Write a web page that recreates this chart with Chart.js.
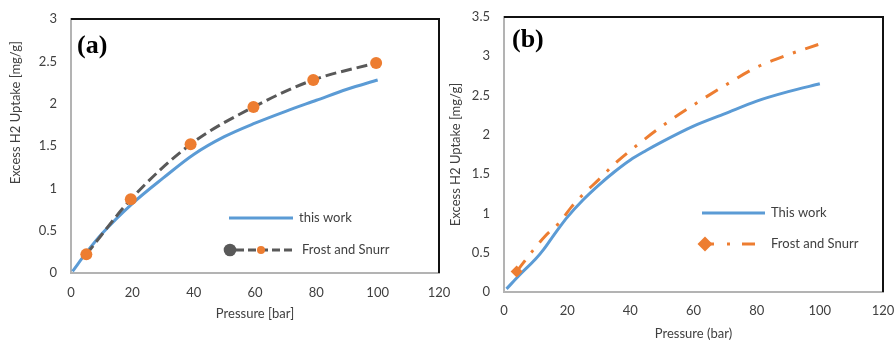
<!DOCTYPE html>
<html><head><meta charset="utf-8">
<script src="https://cdn.jsdelivr.net/npm/chart.js@4/dist/chart.umd.min.js"></script>
<style>
html,body{margin:0;padding:0;background:#fff;}
#wrap{position:relative;width:896px;height:342px;overflow:hidden;background:#fff;}
#ca{position:absolute;left:0;top:0;}
#cb{position:absolute;left:448px;top:0;}
</style></head><body>
<div id="wrap"><canvas id="ca" width="450" height="342"></canvas><canvas id="cb" width="448" height="342"></canvas></div>
<script>
// ---------- Panel (a) ----------
const aThisWorkX = [0.5, 5, 10, 20, 30, 40, 50, 60, 70, 80, 90, 100];
const aThisWorkY = [0.02, 0.24, 0.46, 0.82, 1.12, 1.40, 1.61, 1.77, 1.91, 2.04, 2.17, 2.28];
const aFrostX = [5, 19.5, 39, 59.5, 79, 99.5];
const aFrostY = [0.22, 0.87, 1.52, 1.96, 2.28, 2.48];
// ---------- Panel (b) ----------
const bThisWorkX = [0.8, 5, 10, 12.5, 15, 17.5, 20, 25, 30, 35, 40, 45, 50, 60, 70, 80, 90, 100];
const bThisWorkY = [0.04, 0.22, 0.42, 0.54, 0.68, 0.82, 0.95, 1.17, 1.36, 1.53, 1.68, 1.80, 1.91, 2.11, 2.27, 2.43, 2.55, 2.65];
const bFrostX = [4, 9, 13, 17.5, 21.5, 25.5, 30, 35, 40, 50, 60, 70, 80, 90, 99.5];
const bFrostY = [0.26, 0.52, 0.71, 0.88, 1.09, 1.26, 1.43, 1.63, 1.80, 2.11, 2.38, 2.63, 2.86, 3.02, 3.15];
// ---------- ticks & labels ----------
const xTicks = [0, 20, 40, 60, 80, 100, 120];
const aYTicks = [0, 0.5, 1, 1.5, 2, 2.5, 3];
const bYTicks = [0, 0.5, 1, 1.5, 2, 2.5, 3, 3.5];
const aSeriesNames = ['this work', 'Frost and Snurr'];
const bSeriesNames = ['This work', 'Frost and Snurr'];
const aXTitle = 'Pressure [bar]';
const bXTitle = 'Pressure (bar)';
const yTitle = 'Excess H2 Uptake [mg/g]';

const BLUE = '#5B9BD5', ORANGE = '#ED7D31', GRAY = '#595959', TXT = '#404040', AXIS = '#b3b3b3';
const FONT = 'Lato';
const FS = 13;
Chart.defaults.font.family = FONT;
Chart.defaults.font.size = FS;
Chart.defaults.color = TXT;

const pts = (xs, ys) => xs.map((x, i) => ({x, y: ys[i]}));
const setTicks = arr => (scale) => { scale.ticks = arr.map(v => ({value: v})); };

// leading spaces to lift the y title of panel (a)
const mctx = document.createElement('canvas').getContext('2d');
mctx.font = FS + 'px ' + FONT;
const spW = mctx.measureText(' ').width || 3;
const liftSpaces = ' '.repeat(Math.round(67 / spW));

function framePlugin(id, tag, tagX, tagY, legendFn) {
  return {
    id: id,
    afterDraw(chart) {
      const ctx = chart.ctx;
      const ca = chart.chartArea;
      ctx.save();
      ctx.setLineDash([]);
      ctx.fillStyle = '#111';
      ctx.fillRect(ca.left, ca.top - 1, ca.right - ca.left + 1, 2);
      ctx.fillRect(ca.right - 1, ca.top - 1, 2, ca.bottom - ca.top + 1);
      ctx.fillStyle = '#000';
      ctx.font = 'bold 26px "Liberation Serif"';
      ctx.textBaseline = 'middle';
      ctx.textAlign = 'left';
      ctx.fillText(tag, tagX, tagY);
      legendFn(chart, ctx);
      ctx.restore();
    }
  };
}

function legendA(chart, ctx) {
  const ds = chart.data.datasets;
  ctx.font = FS + 'px ' + FONT;
  ctx.fillStyle = TXT;
  ctx.textBaseline = 'middle';
  ctx.setLineDash([]);
  ctx.strokeStyle = BLUE; ctx.lineWidth = 3; ctx.lineCap = 'butt';
  ctx.beginPath(); ctx.moveTo(229, 218); ctx.lineTo(293, 218); ctx.stroke();
  ctx.fillText(ds[0].label, 299, 218);
  ctx.strokeStyle = GRAY; ctx.setLineDash([8, 4]);
  ctx.beginPath(); ctx.moveTo(236, 250); ctx.lineTo(292, 250); ctx.stroke();
  ctx.setLineDash([]);
  ctx.fillStyle = GRAY;
  ctx.beginPath(); ctx.arc(230, 250, 6.3, 0, Math.PI * 2); ctx.fill();
  ctx.fillStyle = ORANGE;
  ctx.beginPath(); ctx.arc(261, 250, 4, 0, Math.PI * 2); ctx.fill();
  ctx.fillStyle = TXT;
  ctx.fillText(ds[1].label, 302, 250);
}

function legendB(chart, ctx) {
  const ds = chart.data.datasets;
  ctx.font = FS + 'px ' + FONT;
  ctx.fillStyle = TXT;
  ctx.textBaseline = 'middle';
  ctx.setLineDash([]);
  ctx.strokeStyle = BLUE; ctx.lineWidth = 3; ctx.lineCap = 'butt';
  ctx.beginPath(); ctx.moveTo(254, 213); ctx.lineTo(317, 213); ctx.stroke();
  ctx.fillText(ds[0].label, 323, 213);
  ctx.strokeStyle = ORANGE;
  ctx.beginPath(); ctx.moveTo(257, 244); ctx.lineTo(266, 244); ctx.stroke();
  ctx.beginPath(); ctx.moveTo(279, 244); ctx.lineTo(282, 244); ctx.stroke();
  ctx.beginPath(); ctx.moveTo(294, 244); ctx.lineTo(307, 244); ctx.stroke();
  ctx.fillStyle = ORANGE;
  const r = 7.5;
  ctx.beginPath(); ctx.moveTo(257 - r, 244); ctx.lineTo(257, 244 - r); ctx.lineTo(257 + r, 244); ctx.lineTo(257, 244 + r); ctx.closePath(); ctx.fill();
  ctx.fillStyle = TXT;
  ctx.fillText(ds[1].label, 323, 244);
}

function makeScales(yTicks, yMax, xTitle, yTitleText, yWidth, xHeight, xTitlePadB, yTitlePadT, xTickPad, yTickPad) {
  return {
    x: {
      type: 'linear', min: 0, max: 120,
      afterBuildTicks: setTicks(xTicks),
      afterFit: s => { s.height = xHeight; s.paddingLeft = 0; s.paddingRight = 0; },
      grid: {display: false, drawTicks: false},
      border: {display: true, color: AXIS, width: 2},
      ticks: {padding: xTickPad, color: TXT, callback: v => String(v), maxRotation: 0, autoSkip: false},
      title: {display: true, text: xTitle, color: TXT, padding: {top: 0, bottom: xTitlePadB}, font: {size: FS}}
    },
    y: {
      type: 'linear', min: 0, max: yMax,
      afterBuildTicks: setTicks(yTicks),
      afterFit: s => { s.width = yWidth; s.paddingTop = 0; s.paddingBottom = 0; },
      grid: {display: false, drawTicks: false},
      border: {display: true, color: AXIS, width: 2},
      ticks: {padding: yTickPad, color: TXT, callback: v => String(v), autoSkip: false},
      title: {display: true, text: yTitleText, color: TXT, padding: {top: yTitlePadT, bottom: 0}, font: {size: FS}}
    }
  };
}

new Chart(document.getElementById('ca'), {
  type: 'line',
  data: {
    datasets: [
      {label: aSeriesNames[0], data: pts(aThisWorkX, aThisWorkY), borderColor: BLUE, borderWidth: 3,
       pointRadius: 0, tension: 0.4, cubicInterpolationMode: 'monotone', fill: false, order: 2},
      {label: aSeriesNames[1], data: pts(aFrostX, aFrostY), borderColor: GRAY, borderWidth: 3, borderDash: [11, 5],
       pointRadius: 6, pointBackgroundColor: ORANGE, pointBorderColor: ORANGE, pointBorderWidth: 0,
       tension: 0.4, cubicInterpolationMode: 'monotone', fill: false, order: 1}
    ]
  },
  options: {
    responsive: false, animation: false, devicePixelRatio: 1,
    layout: {padding: {top: 19, right: 11, left: 0, bottom: 0}},
    plugins: {legend: {display: false}, tooltip: {enabled: false}},
    scales: makeScales(aYTicks, 3, aXTitle, liftSpaces + yTitle, 71, 69, 20, 8, 12, 14)
  },
  plugins: [framePlugin('frameA', '(a)', 77, 46, legendA)]
});

new Chart(document.getElementById('cb'), {
  type: 'line',
  data: {
    datasets: [
      {label: bSeriesNames[0], data: pts(bThisWorkX, bThisWorkY), borderColor: BLUE, borderWidth: 3,
       pointRadius: 0, tension: 0.4, cubicInterpolationMode: 'monotone', fill: false, order: 2},
      {label: bSeriesNames[1], data: pts(bFrostX, bFrostY), borderColor: ORANGE, borderWidth: 3, borderDash: [14, 10, 3, 10],
       pointStyle: 'rectRot', pointRadius: c => c.dataIndex === 0 ? 6 : 0,
       pointBackgroundColor: ORANGE, pointBorderColor: ORANGE, pointBorderWidth: 0,
       tension: 0.4, cubicInterpolationMode: 'monotone', fill: false, order: 1}
    ]
  },
  options: {
    responsive: false, animation: false, devicePixelRatio: 1,
    layout: {padding: {top: 17, right: 13, left: 0, bottom: 0}},
    plugins: {legend: {display: false}, tooltip: {enabled: false}},
    scales: makeScales(bYTicks, 3.5, bXTitle, yTitle, 56, 50, 0, 0, 11, 14)
  },
  plugins: [framePlugin('frameB', '(b)', 64, 40, legendB)]
});
</script>
</body></html>
